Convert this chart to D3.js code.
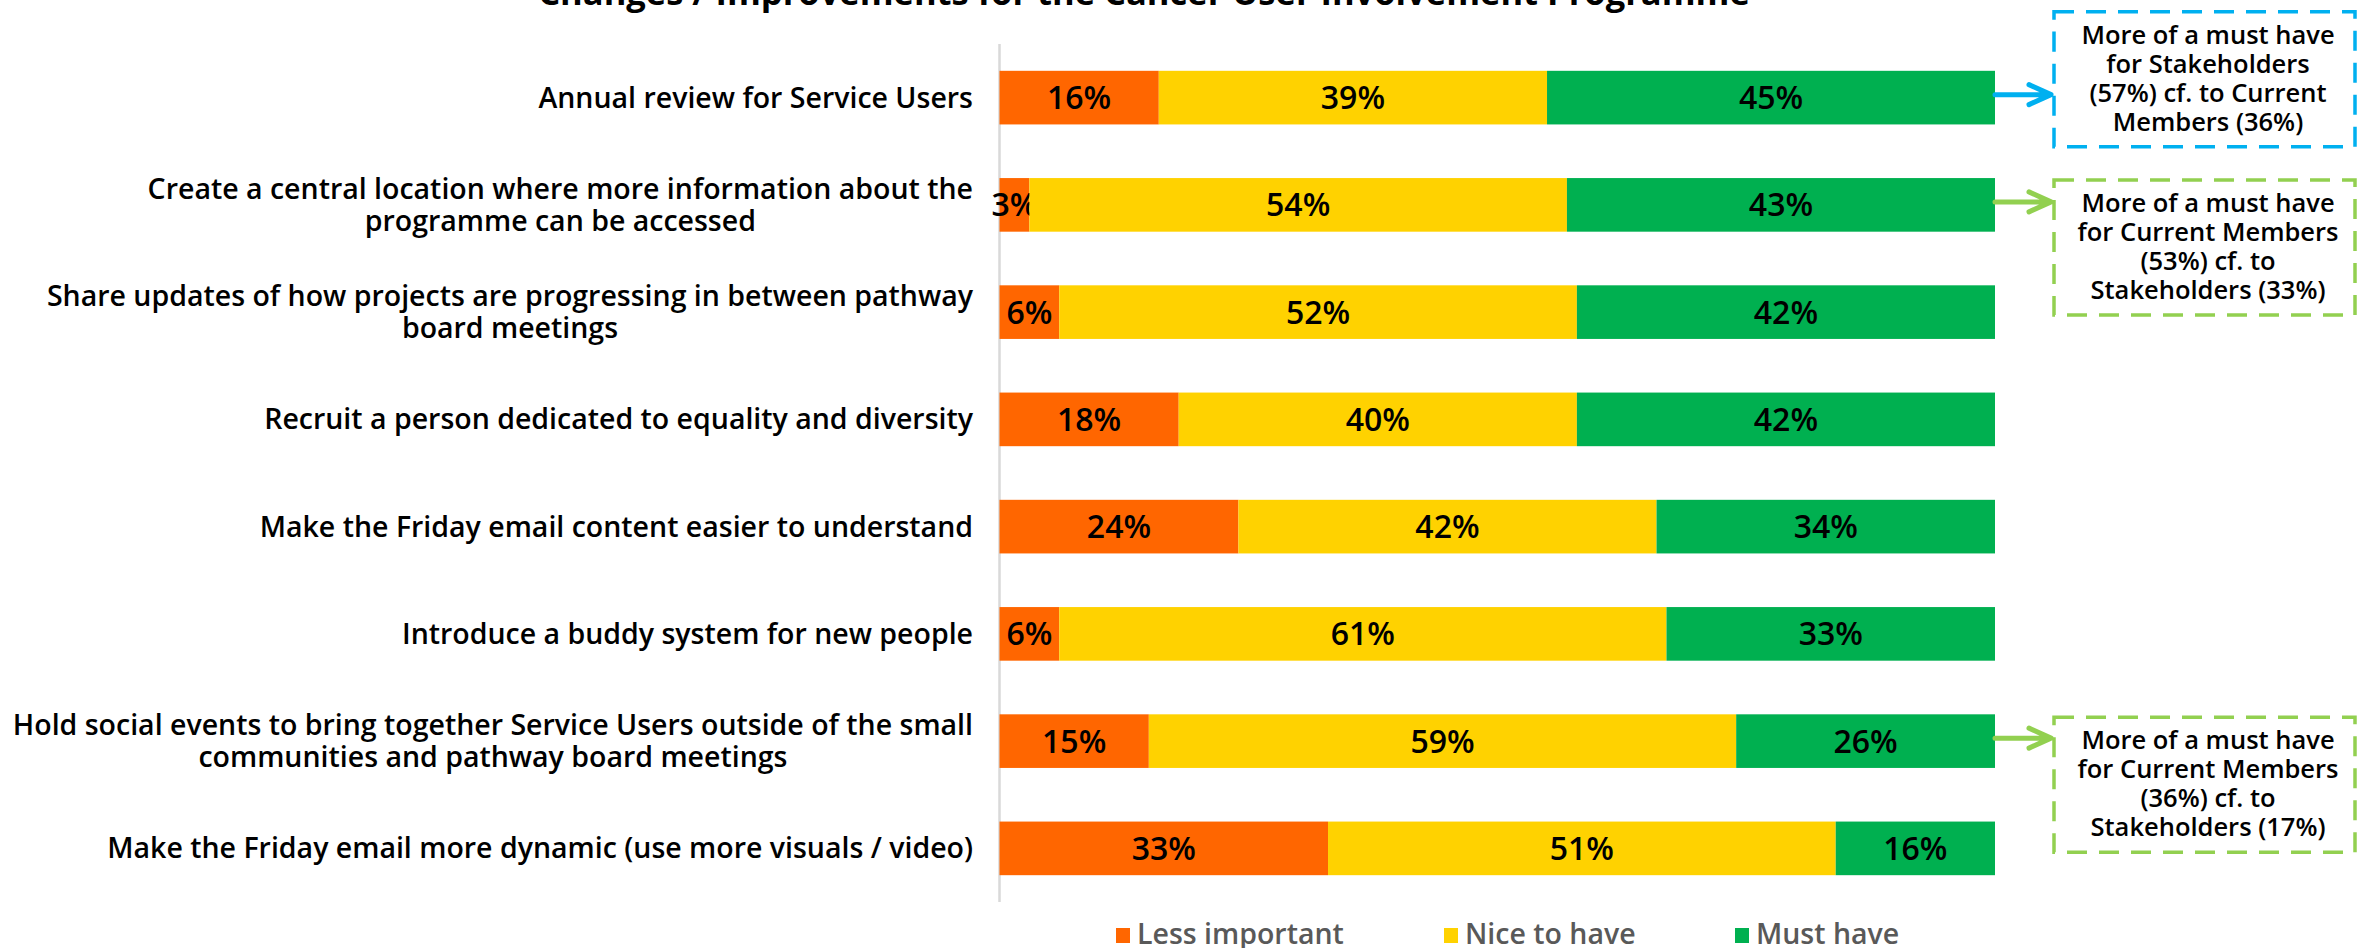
<!DOCTYPE html>
<html>
<head>
<meta charset="utf-8">
<script src="https://cdn.jsdelivr.net/npm/d3@7"></script>
<style>
  html, body { margin: 0; padding: 0; background: #fff; overflow: hidden; }
  svg { display: block; font-family: "Open Sans", sans-serif; }
</style>
</head>
<body>
<svg id="chart"></svg>
<script>
// data
const categories = [
  ["Annual review for Service Users"],
  ["Create a central location where more information about the", "programme can be accessed"],
  ["Share updates of how projects are progressing in between pathway", "board meetings"],
  ["Recruit a person dedicated to equality and diversity"],
  ["Make the Friday email content easier to understand"],
  ["Introduce a buddy system for new people"],
  ["Hold social events to bring together Service Users outside of the small", "communities and pathway board meetings"],
  ["Make the Friday email more dynamic (use more visuals / video)"]
];
const lessImportant = [16, 3, 6, 18, 24, 6, 15, 33];
const niceToHave = [39, 54, 52, 40, 42, 61, 59, 51];
const mustHave = [45, 43, 42, 42, 34, 33, 26, 16];
const seriesNames = ["Less important", "Nice to have", "Must have"];

const title = "Changes / Improvements for the Cancer User Involvement Programme";

const calloutRows = [0, 1, 6];
const calloutTexts = [
  ["More of a must have", "for Stakeholders", "(57%) cf. to Current", "Members (36%)"],
  ["More of a must have", "for Current Members", "(53%) cf. to", "Stakeholders (33%)"],
  ["More of a must have", "for Current Members", "(36%) cf. to", "Stakeholders (17%)"]
];

// layout
const width = 2359, height = 948;
const colors = ["#FF6600", "#FFD200", "#00B050"];
const calloutColors = ["#00B0F0", "#92D050", "#92D050"];
const boxTopOffset = [-86, -25, -24];   // box top relative to bar centre
const boxLeft = 2054, boxRight = 2355, boxHeight = 135;

const svg = d3.select("#chart").attr("width", width).attr("height", height);

const rows = categories.map((c, i) => ({
  key: "r" + i,
  lines: c,
  "Less important": lessImportant[i],
  "Nice to have": niceToHave[i],
  "Must have": mustHave[i]
}));

const x = d3.scaleLinear().domain([0, 100]).range([999.5, 1995]);
const y = d3.scaleBand()
  .domain(rows.map(d => d.key))
  .range([44, 902])
  .paddingInner(0.5)
  .paddingOuter(0.25);

const color = d3.scaleOrdinal().domain(seriesNames).range(colors);
const stack = d3.stack().keys(seriesNames)(rows);

// title (mostly cut off at the top in the original)
svg.append("text")
  .attr("x", 1144)
  .attr("y", 5)
  .attr("text-anchor", "middle")
  .attr("font-size", 34.5)
  .attr("font-weight", 700)
  .attr("fill", "#000")
  .text(title);

// vertical axis line
svg.append("line")
  .attr("x1", x(0)).attr("x2", x(0))
  .attr("y1", 44).attr("y2", 902)
  .attr("stroke", "#D9D9D9")
  .attr("stroke-width", 2.5);

// bars
const layer = svg.append("g").selectAll("g")
  .data(stack)
  .join("g")
  .attr("fill", d => color(d.key));

layer.selectAll("rect")
  .data(d => d)
  .join("rect")
  .attr("x", d => x(d[0]))
  .attr("y", d => y(d.data.key))
  .attr("width", d => x(d[1]) - x(d[0]))
  .attr("height", y.bandwidth());

// segment labels
layer.selectAll("text")
  .data(d => d)
  .join("text")
  .attr("x", d => (x(d[0]) + x(d[1])) / 2)
  .attr("y", d => y(d.data.key) + y.bandwidth() / 2 + 11.5)
  .attr("text-anchor", "middle")
  .attr("font-size", 32)
  .attr("font-weight", 600)
  .attr("fill", "#000")
  .text(d => (d[1] - d[0]) + "%");

// category labels, block right-aligned, lines centred within block
const labelRight = 973;
rows.forEach(d => {
  const cy = y(d.key) + y.bandwidth() / 2;
  const g = svg.append("g");
  const n = d.lines.length;
  const texts = d.lines.map((line, j) => g.append("text")
    .attr("y", cy + (j - (n - 1) / 2) * 31.6 + 10)
    .attr("text-anchor", "middle")
    .attr("font-size", 28.5)
    .attr("font-weight", 600)
    .attr("fill", "#000")
    .text(line));
  const maxW = d3.max(texts, t => t.node().getComputedTextLength());
  texts.forEach(t => t.attr("x", labelRight - maxW / 2));
});

// callouts
calloutRows.forEach((r, i) => {
  const cy = y(rows[r].key) + y.bandwidth() / 2;
  const top = cy + boxTopOffset[i];
  const c = calloutColors[i];
  const ay = cy - 3;
  const g = svg.append("g");

  g.append("rect")
    .attr("x", boxLeft).attr("y", top)
    .attr("width", boxRight - boxLeft).attr("height", boxHeight)
    .attr("fill", "none")
    .attr("stroke", c)
    .attr("stroke-width", 3.5)
    .attr("stroke-dasharray", "20 12");

  g.append("path")
    .attr("d", `M${x(100)},${ay}H${boxLeft - 3}M${boxLeft - 25},${ay - 10}L${boxLeft - 3},${ay}L${boxLeft - 25},${ay + 10}`)
    .attr("fill", "none")
    .attr("stroke", c)
    .attr("stroke-width", 5)
    .attr("stroke-linecap", "round")
    .attr("stroke-linejoin", "round");

  calloutTexts[i].forEach((line, j) => {
    g.append("text")
      .attr("x", 2208)
      .attr("y", top + 32 + j * 29)
      .attr("text-anchor", "middle")
      .attr("font-size", 25.5)
      .attr("font-weight", 600)
      .attr("fill", "#000")
      .text(line);
  });
});

// legend
const legendX = [1116, 1444, 1735];
const legend = svg.append("g").selectAll("g")
  .data(seriesNames)
  .join("g")
  .attr("transform", (d, i) => `translate(${legendX[i]},928)`);

legend.append("rect")
  .attr("width", 14).attr("height", 15)
  .attr("fill", d => color(d));

legend.append("text")
  .attr("x", 21)
  .attr("y", 16)
  .attr("font-size", 28.5)
  .attr("font-weight", 600)
  .attr("fill", "#595959")
  .text(d => d);
</script>
</body>
</html>
